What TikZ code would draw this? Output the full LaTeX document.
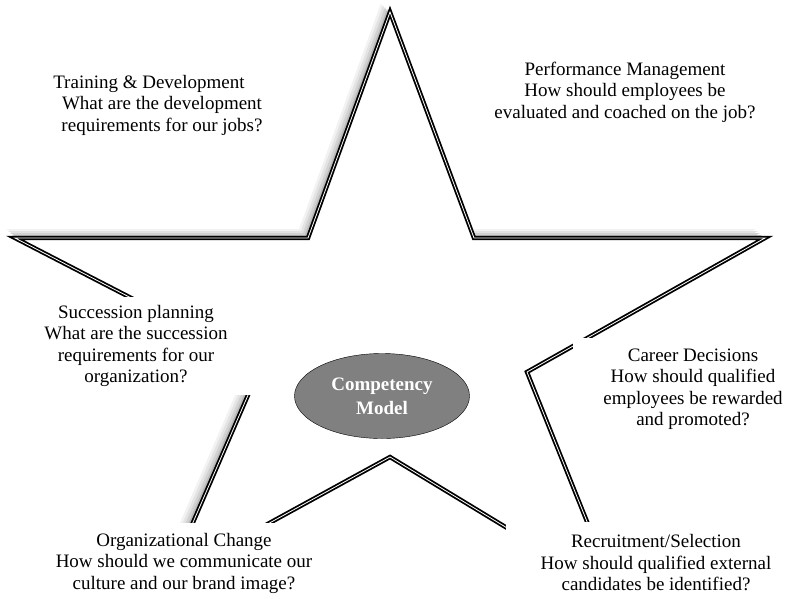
\documentclass[tikz,border=0pt]{standalone}
\usepackage{fontspec}
\setmainfont{Liberation Serif}
\usetikzlibrary{shapes.geometric}

\newcommand{\starpath}{(390,12) -- (474,238) -- (765,238) -- (527,372) -- (616,594) -- (390,457) -- (169,578) -- (261,365) -- (15,238) -- (308,238) -- cycle}

\begin{document}
\begin{tikzpicture}[x=1pt,y=-1pt,
	topic/.style={fill=white, align=center, inner sep=2pt, font=\fontsize{19}{21.5}\selectfont},
	starline/.style={draw=black, double=white, double distance=0.8pt, line width=1.8pt, line join=miter}]
\useasboundingbox (0,0) rectangle (787,598);
\clip (0,0) rectangle (787,598);
\foreach \d/\g in {9/10,7/22,5/36,3/55}
	\fill[gray!\g, shift={(-\d,-\d)}] \starpath;
\fill[white] \starpath;
\draw[starline] \starpath;
\node [ellipse, draw, fill=gray, minimum width=175, minimum height=85, text=white, align=center, font=\fontsize{19}{24}\selectfont\bfseries] (model) at (382,396) {Competency\\Model};
\node [topic] (train) at (162,105) {Training \& Development\hspace*{26pt}\\What are the development\\requirements for our jobs?};
\node [topic] (perf) at (625,92) {Performance Management\\How should employees be\\evaluated and coached on the job?};
\node [topic, minimum width=260, minimum height=98] (succ) at (136,346) {Succession planning\\What are the succession\\requirements for our\\organization?};
\node [topic, minimum width=240, minimum height=102] (career) at (693,389) {Career Decisions\\How should qualified\\employees be rewarded\\and promoted?};
\node [topic, minimum width=280, minimum height=80] (orgch) at (184,563) {Organizational Change\\How should we communicate our\\culture and our brand image?};
\node [topic, minimum width=300, minimum height=82] (recr) at (656,563) {Recruitment/Selection\\How should qualified external\\candidates be identified?};
\end{tikzpicture}
\end{document}
